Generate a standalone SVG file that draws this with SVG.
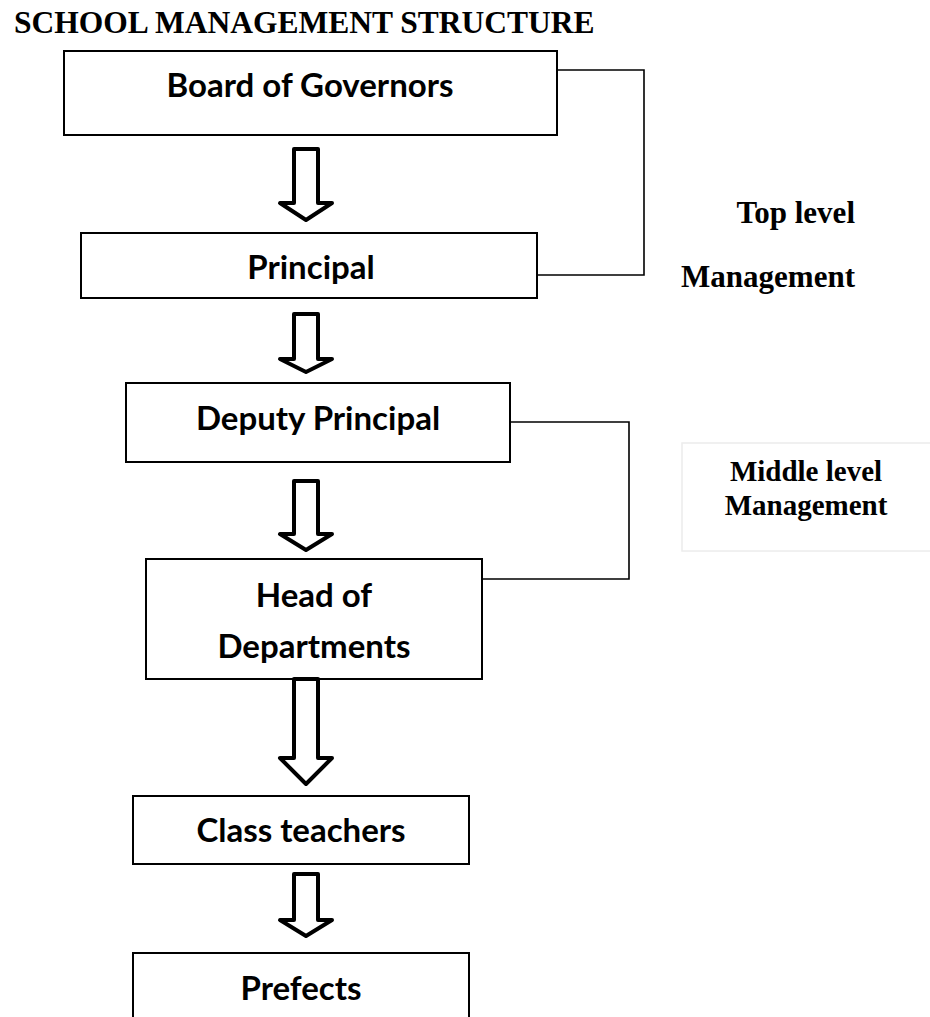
<svg xmlns="http://www.w3.org/2000/svg" width="930" height="1017" viewBox="0 0 930 1017">
<style>
.bg{fill:#fff}
.box{fill:#fff;stroke:#000;stroke-width:2}
.lbl{font-family:Lato,"Open Sans",sans-serif;font-weight:700;font-size:33px;fill:#000;text-anchor:middle}
.tnr{font-family:"Liberation Serif","Times New Roman",serif;font-weight:700;fill:#000}
.arrow{fill:#fff;stroke:#000;stroke-width:4;stroke-linejoin:round}
.conn{fill:none;stroke:#000;stroke-width:1.6}
</style>
<rect class="bg" x="0" y="0" width="930" height="1017"/>
<text id="title" class="tnr" x="14" y="33" font-size="31.5">SCHOOL MANAGEMENT STRUCTURE</text>
<g id="connectors">
  <path class="conn" d="M557,70 H644 V275 H537"/>
  <path class="conn" d="M510,422 H629 V579 H482"/>
</g>
<g id="board">
  <rect class="box" x="64" y="51" width="493" height="84"/>
  <text class="lbl" x="310" y="97">Board of Governors</text>
</g>
<g id="principal">
  <rect class="box" x="81" y="233" width="456" height="65"/>
  <text class="lbl" x="311" y="279">Principal</text>
</g>
<g id="deputy">
  <rect class="box" x="126" y="383" width="384" height="79"/>
  <text class="lbl" x="318" y="430">Deputy Principal</text>
</g>
<g id="heads">
  <rect class="box" x="146" y="559" width="336" height="120"/>
  <text class="lbl" x="314" y="607">Head of</text>
  <text class="lbl" x="314" y="658">Departments</text>
</g>
<g id="classteachers">
  <rect class="box" x="133" y="796" width="336" height="68"/>
  <text class="lbl" x="301" y="842">Class teachers</text>
</g>
<g id="prefects">
  <rect class="box" x="133" y="953" width="336" height="80"/>
  <text class="lbl" x="301" y="1000">Prefects</text>
</g>
<g id="arrows">
  <path class="arrow" d="M294,149 H318 V203 H332 L306,220 L280,203 H294 Z"/>
  <path class="arrow" d="M294,314 H318 V359 H332 L306,372 L280,359 H294 Z"/>
  <path class="arrow" d="M294,481 H318 V534 H332 L306,550 L280,534 H294 Z"/>
  <path class="arrow" d="M294,679 H318 V758 H332 L306,784 L280,758 H294 Z"/>
  <path class="arrow" d="M294,874 H318 V920 H332 L306,936 L280,920 H294 Z"/>
</g>
<g id="toplevel">
  <text class="tnr" x="855" y="223" font-size="31" text-anchor="end">Top level</text>
  <text class="tnr" x="855" y="287" font-size="31" text-anchor="end">Management</text>
</g>
<g id="middlelevel">
  <rect x="682" y="443" width="260" height="108" fill="#fff" stroke="#ececec" stroke-width="1.5"/>
  <text class="tnr" x="806" y="481" font-size="29" text-anchor="middle">Middle level</text>
  <text class="tnr" x="806" y="515" font-size="29" text-anchor="middle">Management</text>
</g>
</svg>
